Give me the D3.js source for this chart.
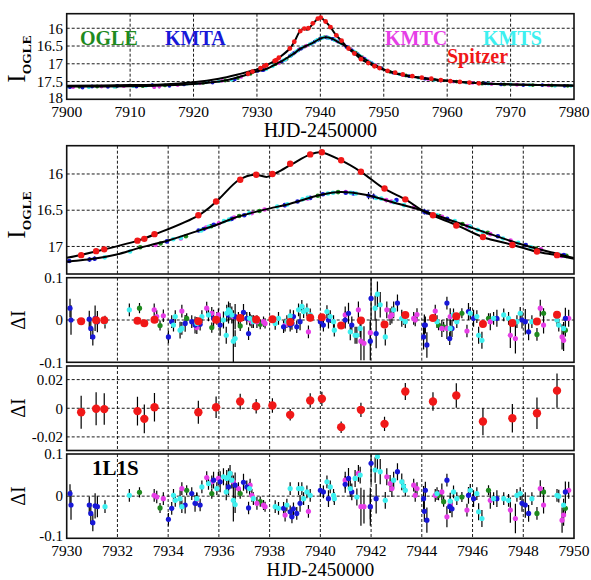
<!DOCTYPE html>
<html>
<head>
<meta charset="utf-8">
<script src="https://cdn.jsdelivr.net/npm/d3@7"></script>
<style>
body { margin: 0; background: #fff; }
text { font-family: "Liberation Serif", "Times New Roman", serif; fill: #000; }
</style>
</head>
<body>
<svg id="chart" width="591" height="580"></svg>
<script>
// ---- light curves: [HJD-2450000, I mag, error] ----
var ogleLc = [[7902, 17.65, .03], [7904.8, 17.64, .03], [7907.8, 17.64, .03], [7912, 17.63, .03], [7915.5, 17.61, .03],
    [7921.5, 17.54, .03], [7925, 17.47, .03], [7927, 17.4, .03], [7929, 17.28, .03], [7932.9, 17.01, .02],
    [7933.7, 16.96, .02], [7934.7, 16.86, .02], [7935.7, 16.72, .02], [7936.8, 16.58, .02], [7937.6, 16.51, .02],
    [7939.9, 16.3, .02], [7940.7, 16.25, .02], [7944.7, 16.58, .02], [7945.6, 16.69, .02], [7946.6, 16.81, .02],
    [7948.5, 17.03, .02], [7949.7, 17.13, .02], [7951, 17.23, .03], [7953.5, 17.33, .03], [7957.5, 17.44, .03],
    [7961.5, 17.5, .03], [7965.5, 17.56, .03], [7969, 17.58, .03], [7973.5, 17.6, .03], [7976.5, 17.61, .03], [7979, 17.62, .03]];
var kmtaLc = [[7900.5, 17.66, .03], [7902.5, 17.67, .03], [7904, 17.64, .04], [7906.5, 17.65, .03], [7908, 17.62, .03],
    [7911, 17.64, .03], [7913.5, 17.6, .04], [7916.2, 17.62, .03], [7918.5, 17.58, .03], [7923, 17.53, .03],
    [7926.5, 17.44, .03], [7928.5, 17.3, .03], [7930.1, 17.2, .02], [7930.9, 17.18, .03], [7931.1, 17.17, .03],
    [7933.95, 16.93, .02], [7935.2, 16.78, .02], [7935.4, 16.76, .02], [7935.8, 16.7, .02], [7936.5, 16.62, .02],
    [7937, 16.57, .02], [7938.6, 16.43, .02], [7939.1, 16.38, .02], [7939.6, 16.33, .02], [7940.1, 16.28, .02],
    [7941, 16.26, .02], [7941.3, 16.27, .02], [7941.9, 16.3, .05], [7942.1, 16.31, .04], [7943, 16.36, .02],
    [7944.1, 16.52, .04], [7944.2, 16.53, .02], [7945, 16.62, .02], [7945.9, 16.73, .02], [7947, 16.86, .02],
    [7948.1, 16.98, .02], [7949.6, 17.12, .02], [7951.5, 17.25, .03], [7954, 17.35, .03], [7956.5, 17.42, .03],
    [7959, 17.47, .03], [7962, 17.51, .03], [7966, 17.55, .04], [7968.5, 17.58, .03], [7972, 17.6, .03],
    [7975, 17.6, .03], [7978.5, 17.62, .03]];
var kmtcLc = [[7901, 17.66, .03], [7905.5, 17.64, .03], [7909, 17.63, .03], [7913.8, 17.66, .05], [7914.6, 17.64, .05],
    [7917.5, 17.6, .03], [7921, 17.55, .03], [7924.5, 17.48, .03], [7927.5, 17.37, .03], [7933.5, 16.98, .02],
    [7934.5, 16.89, .02], [7935.5, 16.74, .02], [7936, 16.68, .02], [7936.6, 16.6, .02], [7937.3, 16.54, .02],
    [7937.8, 16.49, .02], [7938.6, 16.43, .02], [7939.5, 16.34, .02], [7941, 16.25, .02], [7942.6, 16.36, .03],
    [7942.8, 16.38, .02], [7943.7, 16.46, .02], [7944.8, 16.59, .02], [7945.8, 16.72, .02], [7946.7, 16.83, .02],
    [7947.5, 16.92, .02], [7948.7, 17.04, .02], [7949.5, 17.13, .03], [7953, 17.32, .03], [7957, 17.43, .03],
    [7961, 17.5, .03], [7964, 17.54, .03], [7967, 17.57, .03], [7971, 17.59, .03], [7976, 17.61, .03]];
var kmtsLc = [[7900, 17.65, .03], [7903.5, 17.66, .03], [7907.5, 17.65, .03], [7910.5, 17.63, .03], [7912.5, 17.62, .03],
    [7919, 17.56, .03], [7920.5, 17.55, .03], [7922, 17.52, .03], [7924, 17.49, .03], [7926, 17.45, .03],
    [7931.5, 17.15, .02], [7932.5, 17.07, .02], [7934.2, 16.9, .02], [7934.5, 16.88, .02], [7935.3, 16.78, .02],
    [7935.6, 16.73, .02], [7936.2, 16.65, .02], [7936.4, 16.63, .02], [7937.2, 16.54, .02], [7938.3, 16.45, .02],
    [7938.7, 16.42, .02], [7939.3, 16.35, .02], [7939.5, 16.33, .02], [7940.3, 16.27, .02], [7940.5, 16.26, .02],
    [7941.2, 16.26, .02], [7941.4, 16.27, .02], [7942.2, 16.33, .03], [7942.4, 16.34, .02], [7942.9, 16.39, .02],
    [7943.3, 16.43, .02], [7944.6, 16.57, .02], [7945.3, 16.65, .02], [7945.9, 16.73, .02], [7946.2, 16.77, .02],
    [7946.4, 16.8, .02], [7947.2, 16.89, .02], [7947.8, 16.95, .02], [7948.3, 17.01, .02], [7949.4, 17.11, .02],
    [7950.5, 17.2, .03], [7952.5, 17.29, .03], [7955.5, 17.39, .03], [7958, 17.45, .03], [7960.5, 17.49, .03],
    [7963, 17.53, .03], [7966.5, 17.56, .03], [7970, 17.58, .03], [7973, 17.6, .03], [7977, 17.62, .03], [7979.5, 17.62, .03]];
var spitzerLc = [[7928.6, 17.28], [7929.3, 17.22], [7930.57, 17.12], [7931.16, 17.065], [7931.48, 17.04],
    [7932.79, 16.92], [7933.06, 16.895], [7933.46, 16.83], [7935.19, 16.57], [7935.89, 16.38], [7936.84, 16.08],
    [7937.47, 16.01], [7938.11, 16.0], [7938.81, 15.86], [7939.6, 15.73], [7940.06, 15.70], [7940.82, 15.81],
    [7941.6, 15.97], [7942.53, 16.2], [7943.35, 16.35], [7944.44, 16.57], [7945.36, 16.71], [7946.41, 16.87],
    [7947.57, 16.98], [7948.54, 17.07], [7949.33, 17.12], [7950.6, 17.2], [7951.8, 17.25], [7953, 17.3],
    [7954.5, 17.35], [7956, 17.39], [7957.5, 17.42], [7959, 17.46], [7960.5, 17.49], [7962, 17.51],
    [7963.5, 17.53], [7965, 17.55]];

// ---- model curves: [HJD-2450000, I mag] ----
var spitzerModel = [[7900, 17.62], [7910, 17.6], [7915, 17.58], [7920, 17.52], [7924, 17.42], [7927, 17.3],
    [7930, 17.157], [7931.2, 17.065], [7932.8, 16.92], [7933.5, 16.83], [7935.2, 16.57], [7935.9, 16.38],
    [7936.8, 16.08], [7937.4, 16.01], [7937.9, 16.04], [7938.3, 15.98], [7938.9, 15.86], [7939.6, 15.73],
    [7940.0, 15.70], [7940.8, 15.81], [7941.6, 15.97], [7942.5, 16.2], [7943.4, 16.36], [7944.1, 16.52],
    [7945.4, 16.71], [7946.4, 16.87], [7947.6, 16.98], [7948.5, 17.07], [7949.3, 17.12], [7950, 17.17],
    [7952, 17.27], [7955, 17.37], [7960, 17.48], [7965, 17.55], [7970, 17.58], [7980, 17.61]];
var groundModel = [[7900, 17.64], [7910, 17.63], [7915, 17.61], [7920, 17.57], [7925, 17.47], [7928, 17.33],
    [7930, 17.21], [7931.05, 17.17], [7931.97, 17.11], [7932.76, 17.03], [7933.42, 16.97], [7934.07, 16.91],
    [7935.26, 16.775], [7935.92, 16.70], [7936.57, 16.61], [7937.36, 16.53], [7938.02, 16.475], [7938.81, 16.41],
    [7939.99, 16.29], [7940.78, 16.25], [7941.83, 16.29], [7942.75, 16.38], [7944.07, 16.51], [7945.39, 16.67],
    [7946.7, 16.83], [7948.01, 16.98], [7949.33, 17.10], [7950, 17.16], [7952, 17.28], [7955, 17.38],
    [7960, 17.48], [7965, 17.55], [7970, 17.58], [7980, 17.62]];

// ---- residuals: [HJD-2450000, dI vs 2L1S, dI vs 1L1S, error] ----
var ogleRes = [[7932.87, .028, .009, .012], [7933.68, -.013, -.028, .012], [7934.73, .004, .014, .012],
    [7935.72, -.018, .006, .012], [7936.84, -.014, .006, .012], [7937.63, -.01, -.013, .012],
    [7944.66, -.012, .002, .012], [7944.86, -.016, -.013, .012], [7945.58, .016, -.002, .012],
    [7946.63, .004, .014, .012], [7948.54, -.034, -.041, .015], [7948.8, .016, .01, .012], [7949.66, -.024, -.029, .015]];
var kmtaRes = [[7930.13, .028, .006, .022], [7930.17, 0, -.021, .035], [7930.89, .002, -.021, .02],
    [7930.95, -.02, -.041, .025], [7931.03, -.04, -.063, .02], [7931.12, .004, -.023, .03], [7931.21, -.004, -.025, .025],
    [7934.01, -.04, -.055, .015], [7934.14, -.004, -.029, .015], [7934.67, -.008, -.021, .02], [7934.93, -.004, .006, .015],
    [7935.06, -.012, -.017, .02], [7935.26, -.01, -.021, .015], [7935.79, .004, .038, .02], [7936.05, -.012, .034, .025],
    [7936.38, .012, .022, .02], [7936.64, .008, .026, .03], [7936.97, .018, .033, .02], [7937.1, .004, .022, .015],
    [7937.17, -.032, -.028, .015], [7938.55, -.016, -.029, .015], [7938.81, -.012, -.037, .015],
    [7938.88, -.008, -.049, .015], [7938.94, .008, -.03, .015], [7939.07, -.016, -.041, .015], [7939.2, -.004, -.017, .02],
    [7940.0, -.004, .014, .015], [7940.12, -.012, .01, .015], [7940.32, 0, -.006, .02], [7940.98, 0, .028, .02],
    [7941.11, .016, .042, .025], [7941.24, -.012, .01, .02], [7941.97, -.05, -.025, .045], [7942.0, .051, .078, .05],
    [7942.2, -.032, -.006, .035], [7943.04, .04, .058, .02], [7944.07, -.04, -.006, .03], [7944.1, -.012, -.036, .025],
    [7944.14, -.012, .014, .02], [7944.2, -.059, -.057, .03], [7944.99, .04, .038, .015], [7945.1, -.044, -.025, .015],
    [7945.19, -.02, -.03, .02], [7945.84, .02, .002, .02], [7946.04, .004, -.006, .02], [7946.96, .004, -.006, .02],
    [7947.95, 0, -.017, .02], [7948.08, -.004, -.021, .03], [7948.21, -.028, -.041, .02], [7949.66, .004, .01, .025]];
var kmtcRes = [[7933.45, .024, .002, .015], [7933.55, .008, -.002, .015], [7933.81, .01, -.006, .015],
    [7934.54, .021, .018, .015], [7935.13, -.018, -.008, .015], [7935.52, .028, .044, .015], [7935.72, .016, .034, .015],
    [7935.98, .012, .042, .015], [7936.57, .008, .034, .015], [7936.77, .004, .018, .015], [7937.23, 0, .026, .015],
    [7937.3, -.004, .002, .015], [7937.5, -.004, -.017, .015], [7937.76, -.004, -.021, .012], [7937.82, -.008, -.025, .012],
    [7938.61, -.012, -.045, .015], [7939.53, -.028, -.036, .015], [7940.98, .012, .038, .02], [7941.5, .024, .054, .02],
    [7941.6, -.05, -.025, .045], [7941.72, -.055, -.025, .04], [7941.97, -.03, -.025, .03], [7942.62, .024, .046, .02],
    [7942.75, .008, .03, .02], [7942.82, .012, .018, .02], [7943.68, .004, .026, .015], [7943.74, 0, .002, .015],
    [7943.81, .013, .018, .015], [7944.53, .021, .002, .015], [7944.79, -.02, .01, .02], [7944.99, -.02, -.049, .025],
    [7945.12, .008, -.02, .02], [7945.78, -.026, -.033, .015], [7946.7, -.004, -.01, .02], [7947.49, -.036, -.033, .03],
    [7947.69, -.044, -.053, .035], [7948.67, .028, .018, .02], [7948.8, -.012, -.021, .02], [7949.53, -.04, -.057, .03],
    [7949.59, -.048, -.045, .025], [7949.79, .004, .014, .02]];
var kmtsRes = [[7931.51, -.005, -.025, .015], [7932.47, .024, .002, .015], [7934.21, -.012, .002, .015],
    [7934.28, .008, -.01, .015], [7934.47, -.024, -.006, .02], [7934.54, -.02, -.025, .015], [7935.13, -.008, -.006, .015],
    [7935.33, .008, .022, .015], [7935.59, .012, .03, .015], [7935.92, .004, .018, .015], [7936.18, 0, .046, .02],
    [7936.29, -.036, .01, .02], [7936.31, .016, .042, .02], [7936.38, .024, .046, .02], [7936.44, .02, .054, .02],
    [7936.51, .012, .038, .02], [7936.57, -.05, -.01, .05], [7936.64, -.044, -.02, .02], [7937.21, .004, .018, .015],
    [7937.36, -.004, -.006, .015], [7938.22, -.008, -.025, .015], [7938.35, .004, -.029, .015], [7938.68, -.004, -.021, .015],
    [7938.81, .01, .018, .015], [7939.14, .024, .018, .015], [7939.27, .032, .018, .015], [7939.34, .02, -.006, .015],
    [7939.47, .024, .01, .015], [7939.6, .012, .002, .015], [7940.26, .02, .034, .015], [7940.39, .008, .022, .015],
    [7940.52, -.004, .002, .015], [7940.55, -.024, -.006, .015], [7941.18, -.028, .018, .02], [7941.37, -.036, .042, .02],
    [7941.44, -.036, -.002, .02], [7941.57, -.02, .05, .02], [7942.16, .028, .062, .03], [7942.25, .061, .094, .03],
    [7942.36, .036, .058, .03], [7942.56, -.04, -.01, .02], [7942.89, .024, .038, .02], [7943.21, .004, .034, .02],
    [7943.28, .004, .024, .015], [7943.35, -.004, .014, .015], [7944.6, -.004, .006, .015], [7945.12, -.02, -.012, .02],
    [7945.25, .012, .01, .015], [7945.38, -.004, -.006, .015], [7945.91, .016, .014, .015], [7946.17, .008, .006, .015],
    [7946.24, -.036, -.037, .02], [7946.37, -.048, -.053, .02], [7946.83, .004, -.006, .015], [7947.23, .012, -.006, .015],
    [7947.42, .004, -.01, .015], [7947.75, -.004, .002, .015], [7947.88, .016, .006, .015], [7948.34, -.004, -.006, .015],
    [7949.33, 0, .002, .015], [7949.4, -.012, 0, .015], [7949.59, -.02, -.021, .015]];
// Spitzer residuals vs 2L1S: [HJD-2450000, dI, error]
var spitzerRes = [[7930.57, -.0028, .0115], [7931.16, -.0004, .0115], [7931.48, -.0006, .011], [7932.79, -.002, .010],
    [7933.06, -.0074, .010], [7933.46, .0007, .010], [7935.19, -.0028, .008], [7935.89, .0007, .0075],
    [7936.84, .0047, .0055], [7937.47, .0014, .005], [7938.11, .0019, .005], [7938.81, -.0046, .004],
    [7939.6, .0054, .005], [7940.06, .0066, .005], [7940.82, -.0132, .004], [7941.6, -.0011, .005],
    [7942.53, -.0109, .005], [7943.35, .0117, .006], [7944.44, .0047, .0065], [7945.36, .0089, .0085],
    [7946.41, -.0093, .0095], [7947.57, -.007, .01], [7948.54, -.0035, .011], [7949.33, .0123, .012]];

var wideTicks = [7900, 7910, 7920, 7930, 7940, 7950, 7960, 7970, 7980];
var zoomTicks = [7930, 7932, 7934, 7936, 7938, 7940, 7942, 7944, 7946, 7948, 7950];

var colors = {ogle: "#1f8a1f", kmta: "#1818d8", kmtc: "#e63ee6", kmts: "#3ef0f0", spitzer: "#f01818"};

var svg = d3.select("#chart");
var left = 66.7, right = 574;

var xWide = d3.scaleLinear().domain([7900, 7980]).range([left, right]);
var xZoom = d3.scaleLinear().domain([7930, 7950]).range([left, right]);

// lift: nudges the bottom-edge tick label clear of the x labels below it
var panels = [
    {id: "p0", x: xWide, xt: wideTicks, top: 13.7, bottom: 99.3, dom: [15.59, 18], yt: [16, 16.5, 17, 17.5, 18], lift: 2},
    {id: "p1", x: xZoom, xt: zoomTicks, top: 145.7, bottom: 274, dom: [15.61, 17.38], yt: [16, 16.5, 17], lift: 0},
    {id: "p2", x: xZoom, xt: zoomTicks, top: 277.7, bottom: 362.3, dom: [0.1, -0.1], yt: [0.1, 0, -0.1], lift: 0},
    {id: "p3", x: xZoom, xt: zoomTicks, top: 366, bottom: 450.5, dom: [0.0295, -0.0295], yt: [0.02, 0, -0.02], lift: 0},
    {id: "p4", x: xZoom, xt: zoomTicks, top: 454, bottom: 538.3, dom: [0.1, -0.1], yt: [0.1, 0, -0.1], lift: 3}
];

var defs = svg.append("defs");

panels.forEach(function (p) {
    p.y = d3.scaleLinear().domain(p.dom).range([p.top, p.bottom]);
    defs.append("clipPath").attr("id", "clip-" + p.id)
        .append("rect")
        .attr("x", left).attr("y", p.top)
        .attr("width", right - left).attr("height", p.bottom - p.top);
    p.g = svg.append("g").attr("clip-path", "url(#clip-" + p.id + ")");

    // dashed grid
    p.g.selectAll("line.vgrid")
        .data(p.xt.slice(1, -1))
        .enter().append("line")
        .attr("class", "vgrid")
        .attr("x1", p.x).attr("x2", p.x)
        .attr("y1", p.top).attr("y2", p.bottom);
    p.g.selectAll("line.hgrid")
        .data(p.yt.filter(function (v) {
            var yy = p.y(v);
            return yy > p.top + 2 && yy < p.bottom - 2;
        }))
        .enter().append("line")
        .attr("class", "hgrid")
        .attr("x1", left).attr("x2", right)
        .attr("y1", p.y).attr("y2", p.y);
    p.g.selectAll("line.vgrid, line.hgrid")
        .attr("stroke", "#000")
        .attr("stroke-width", 0.9)
        .attr("stroke-dasharray", "3,2");

    // y tick labels
    svg.append("g").selectAll("text")
        .data(p.yt)
        .enter().append("text")
        .attr("x", 63)
        .attr("y", function (d, i) {
            return p.y(d) - (i === p.yt.length - 1 ? p.lift : 0);
        })
        .attr("dy", "0.35em")
        .attr("text-anchor", "end")
        .attr("font-size", 15)
        .text(function (d) { return String(d); });
});

function errorBars(g, rows, x, y, tIdx, vIdx, eIdx) {
    g.append("g").selectAll("line")
        .data(rows)
        .enter().append("line")
        .attr("x1", function (d) { return x(d[tIdx]); })
        .attr("x2", function (d) { return x(d[tIdx]); })
        .attr("y1", function (d) { return y(d[vIdx] - d[eIdx]); })
        .attr("y2", function (d) { return y(d[vIdx] + d[eIdx]); })
        .attr("stroke", "#000")
        .attr("stroke-width", 1.2);
}

function dots(g, rows, x, y, tIdx, vIdx, r, fill) {
    g.append("g").selectAll("circle")
        .data(rows)
        .enter().append("circle")
        .attr("cx", function (d) { return x(d[tIdx]); })
        .attr("cy", function (d) { return y(d[vIdx]); })
        .attr("r", r)
        .attr("fill", fill);
}

function modelLine(g, rows, x, y) {
    var line = d3.line()
        .x(function (d) { return x(d[0]); })
        .y(function (d) { return y(d[1]); })
        .curve(d3.curveCatmullRom.alpha(0.5));
    g.append("path")
        .datum(rows)
        .attr("d", line)
        .attr("fill", "none")
        .attr("stroke", "#000")
        .attr("stroke-width", 2);
}

var ground = [
    {lc: ogleLc, res: ogleRes, c: colors.ogle},
    {lc: kmtcLc, res: kmtcRes, c: colors.kmtc},
    {lc: kmtaLc, res: kmtaRes, c: colors.kmta},
    {lc: kmtsLc, res: kmtsRes, c: colors.kmts}
];

// light-curve panels
[panels[0], panels[1]].forEach(function (p, k) {
    var rGround = k === 0 ? 1.9 : 2.3;
    var rSpz = k === 0 ? 2.4 : 3.2;
    ground.forEach(function (s) { errorBars(p.g, s.lc, p.x, p.y, 0, 1, 2); });
    ground.forEach(function (s) { dots(p.g, s.lc, p.x, p.y, 0, 1, rGround, s.c); });
    modelLine(p.g, groundModel, p.x, p.y);
    modelLine(p.g, spitzerModel, p.x, p.y);
    dots(p.g, spitzerLc, p.x, p.y, 0, 1, rSpz, colors.spitzer);
});

// residuals against the 2L1S model (index 1) and the 1L1S model (index 2)
[[panels[2], 1], [panels[4], 2]].forEach(function (pr) {
    var p = pr[0], col = pr[1];
    ground.forEach(function (s) {
        var rows = s.res.map(function (d) { return [d[0], d[col], d[3]]; });
        errorBars(p.g, rows, p.x, p.y, 0, 1, 2);
    });
    ground.forEach(function (s) {
        var rows = s.res.map(function (d) { return [d[0], d[col]]; });
        dots(p.g, rows, p.x, p.y, 0, 1, 2.6, s.c);
    });
});
dots(panels[2].g, spitzerRes, panels[2].x, panels[2].y, 0, 1, 4, colors.spitzer);

// Spitzer-only residuals
errorBars(panels[3].g, spitzerRes, panels[3].x, panels[3].y, 0, 1, 2);
dots(panels[3].g, spitzerRes, panels[3].x, panels[3].y, 0, 1, 4.2, colors.spitzer);

// frames
panels.forEach(function (p) {
    svg.append("rect")
        .attr("x", left).attr("y", p.top)
        .attr("width", right - left).attr("height", p.bottom - p.top)
        .attr("fill", "none")
        .attr("stroke", "#111")
        .attr("stroke-width", 1.6);
});

// x tick labels and titles
function xLabels(p, baseline, titleBaseline, titleSize) {
    svg.append("g").selectAll("text")
        .data(p.xt)
        .enter().append("text")
        .attr("x", p.x)
        .attr("y", baseline)
        .attr("text-anchor", "middle")
        .attr("font-size", 15.5)
        .text(function (d) { return d; });
    svg.append("text")
        .attr("x", (left + right) / 2)
        .attr("y", titleBaseline)
        .attr("text-anchor", "middle")
        .attr("font-size", titleSize)
        .text("HJD-2450000");
}
xLabels(panels[0], 117, 137, 20);
xLabels(panels[4], 555.5, 576, 19);

// y titles
function yTitleMag(cy) {
    var t = svg.append("text")
        .attr("transform", "translate(25," + cy + ") rotate(-90)")
        .attr("text-anchor", "middle");
    t.append("tspan").attr("font-size", 25).text("I");
    t.append("tspan").attr("font-size", 13.5).attr("font-weight", "bold").attr("dy", 6).text("OGLE");
}
yTitleMag(59);
yTitleMag(215);
[320, 408, 496].forEach(function (cy) {
    svg.append("text")
        .attr("transform", "translate(25," + cy + ") rotate(-90)")
        .attr("text-anchor", "middle")
        .attr("font-size", 20)
        .text("\u0394I");
});

// observatory labels
var legend = [
    {name: "OGLE", x: 80, y: 45, c: colors.ogle},
    {name: "KMTA", x: 165, y: 45, c: colors.kmta},
    {name: "KMTC", x: 385, y: 45, c: colors.kmtc},
    {name: "KMTS", x: 483, y: 45, c: colors.kmts},
    {name: "Spitzer", x: 447, y: 63, c: colors.spitzer}
];
svg.append("g").selectAll("text")
    .data(legend)
    .enter().append("text")
    .attr("x", function (d) { return d.x; })
    .attr("y", function (d) { return d.y; })
    .attr("font-size", 20)
    .attr("font-weight", "bold")
    .style("fill", function (d) { return d.c; })
    .text(function (d) { return d.name; });

svg.append("text")
    .attr("x", 92).attr("y", 475)
    .attr("font-size", 21)
    .attr("font-weight", "bold")
    .text("1L1S");
</script>
</body>
</html>
